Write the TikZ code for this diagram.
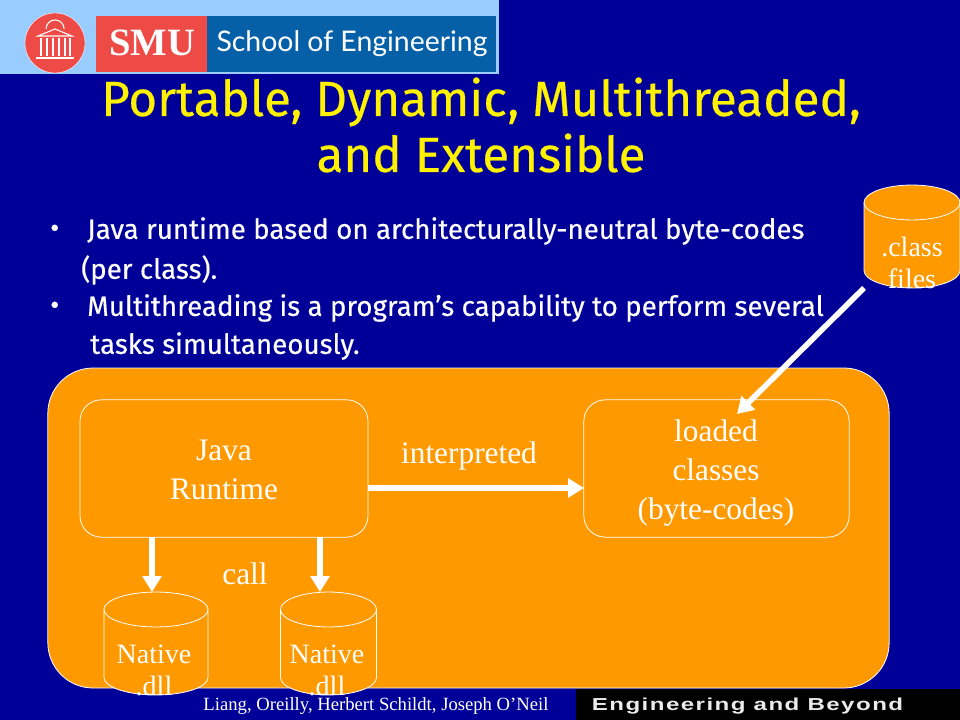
\documentclass[tikz,border=0pt]{standalone}
\usepackage{fontspec}
\setmainfont{Liberation Serif}
\newfontfamily\slidefont[FakeBold=0.4]{Fira Sans}
\newfontfamily\logofont{Lato}
\newfontfamily\barfont[LetterSpace=6]{Liberation Sans}
\usetikzlibrary{arrows.meta}
\definecolor{slideblue}{HTML}{000099}
\definecolor{slideorange}{HTML}{FF9900}
\definecolor{logosky}{HTML}{99CCFF}
\definecolor{logored}{HTML}{EE4B47}
\definecolor{logoblue}{HTML}{0560A8}
\tikzset{
  titletext/.style={text=yellow, font=\slidefont\fontsize{37}{42}\selectfont, align=center, inner sep=0pt},
  bodytext/.style={text=white, font=\slidefont\fontsize{20.8}{24}\selectfont, anchor=west, inner sep=0pt},
  boxtext/.style={text=white, font=\fontsize{23.5}{29.2}\selectfont, align=center, inner sep=0pt},
  disktext/.style={text=white, font=\fontsize{21}{24}\selectfont, align=center, inner sep=0pt},
  roundbox/.style={draw=white, line width=0.6pt, fill=slideorange, rounded corners=16pt, inner sep=0pt, outer sep=0pt},
  disk/.style={draw=white, line width=0.6pt, fill=slideorange},
  thickarrow/.style={draw=white, line width=4.2pt, -{Triangle[length=12pt,width=14pt]}},
}
% centre x, half width, top, bottom
\newcommand{\diskshape}[4]{
  \path[disk] ({#1-#2},{#3+17.5}) -- ({#1-#2},{#4-17.5})
    arc[start angle=180, end angle=360, x radius={#2*0.75pt}, y radius=13.1pt]
    -- ({#1+#2},{#3+17.5})
    arc[start angle=0, end angle=180, x radius={#2*0.75pt}, y radius=13.1pt];
  \draw[disk, fill=none] ({#1-#2},{#3+17.5})
    arc[start angle=180, end angle=360, x radius={#2*0.75pt}, y radius=13.1pt];
}
\begin{document}
\begin{tikzpicture}[x=0.75pt, y=-0.75pt]
  \useasboundingbox (0,0) rectangle (960,720);
  \fill[slideblue] (0,0) rectangle (960,720);

  % Logo strip
  \fill[logosky] (0,0) rectangle (499,74);
  \fill[logored] (96,16) rectangle (207,72);
  \fill[logoblue] (207,16) rectangle (496,72);
  \node[circle, fill=logored, draw=white, line width=0.3pt, minimum size=45pt, inner sep=0pt] at (55,43) (seal) {};
  \draw[white, line width=0.8pt] (38,36) -- (55,29) -- (72,36) -- cycle;
  \draw[white, line width=0.8pt] (46,29) arc[start angle=180, end angle=0, radius=6.8pt];
  \foreach \colx in {41,47,53,59,65,70} {
    \draw[white, line width=0.9pt] (\colx,38) -- (\colx,56);
  }
  \draw[white, line width=1.2pt] (36,58) -- (74,58);
  \node[text=white, font=\bfseries\fontsize{29}{29}\selectfont, inner sep=0pt] at (152,43) (smu) {SMU};
  \node[text=white, font=\logofont\fontsize{21.3}{24}\selectfont, inner sep=0pt] at (352,44) (school) {School of Engineering};

  % Title
  \node[titletext] at (481,125) (title) {Portable, Dynamic, Multithreaded,\\and Extensible};

  % Bullets
  \node[bodytext] at (50,231) (dotA) {•};
  \node[bodytext] at (87,231) (lineA) {Java runtime based on architecturally-neutral byte-codes};
  \node[bodytext] at (81,270) (lineB) {(per class).};
  \node[bodytext] at (50,308) (dotB) {•};
  \node[bodytext] at (87,308) (lineC) {Multithreading is a program’s capability to perform several};
  \node[bodytext] at (90,346) (lineD) {tasks simultaneously.};

  % Nodes
  \node[roundbox, rounded corners=34pt, minimum width=631pt, minimum height=240pt] at (468.5,528) (panel) {};
  \node[roundbox, minimum width=216pt, minimum height=103pt] at (224,468.5) (runtime) {};
  \node[boxtext] at (224,470) (runtimetext) {Java\\Runtime};
  \node[roundbox, minimum width=199pt, minimum height=103pt] at (716.5,468.5) (loaded) {};
  \node[boxtext] at (716,473) (loadedtext) {loaded\\classes\\(byte-codes)};
  \diskshape{912}{48}{185}{288}
  \node[disktext] at (912,263) (classtext) {.class\\files};
  \diskshape{156}{52}{592}{695}
  \node[disktext] at (154,670) (nativeAtext) {Native\\.dll};
  \diskshape{328.5}{48}{592}{695}
  \node[disktext] at (327,670) (nativeBtext) {Native\\.dll};
  \node[boxtext] at (469,456) (interpreted) {interpreted};
  \node[boxtext] at (245,574) (calltext) {call};

  % Free ends of the arrows
  \coordinate (fromclass) at (864,288);
  \coordinate (toloaded) at (737,414);
  \coordinate (fromrunA) at (152,537);
  \coordinate (toNativeA) at (152,592);
  \coordinate (fromrunB) at (320,537);
  \coordinate (toNativeB) at (320,592);
  \coordinate (fromrunC) at (368,488);
  \coordinate (toloadedC) at (584,488);

  \draw[thickarrow] (fromrunC) -- (toloadedC);
  \draw[thickarrow] (fromclass) -- (toloaded);
  \draw[thickarrow] (fromrunA) -- (toNativeA);
  \draw[thickarrow] (fromrunB) -- (toNativeB);

  % Footer
  \fill[black] (576,689) rectangle (960,720);
  \node[text=white, font=\fontsize{14}{14}\selectfont, inner sep=0pt] at (376,706) (credit) {Liang, Oreilly, Herbert Schildt, Joseph O’Neil};
  \node[text=white!92!black, font=\barfont\bfseries\fontsize{13}{13}\selectfont, inner sep=0pt] at (747.5,706) (motto) {\scalebox{1.39}[1]{Engineering and Beyond}};
\end{tikzpicture}
\end{document}
